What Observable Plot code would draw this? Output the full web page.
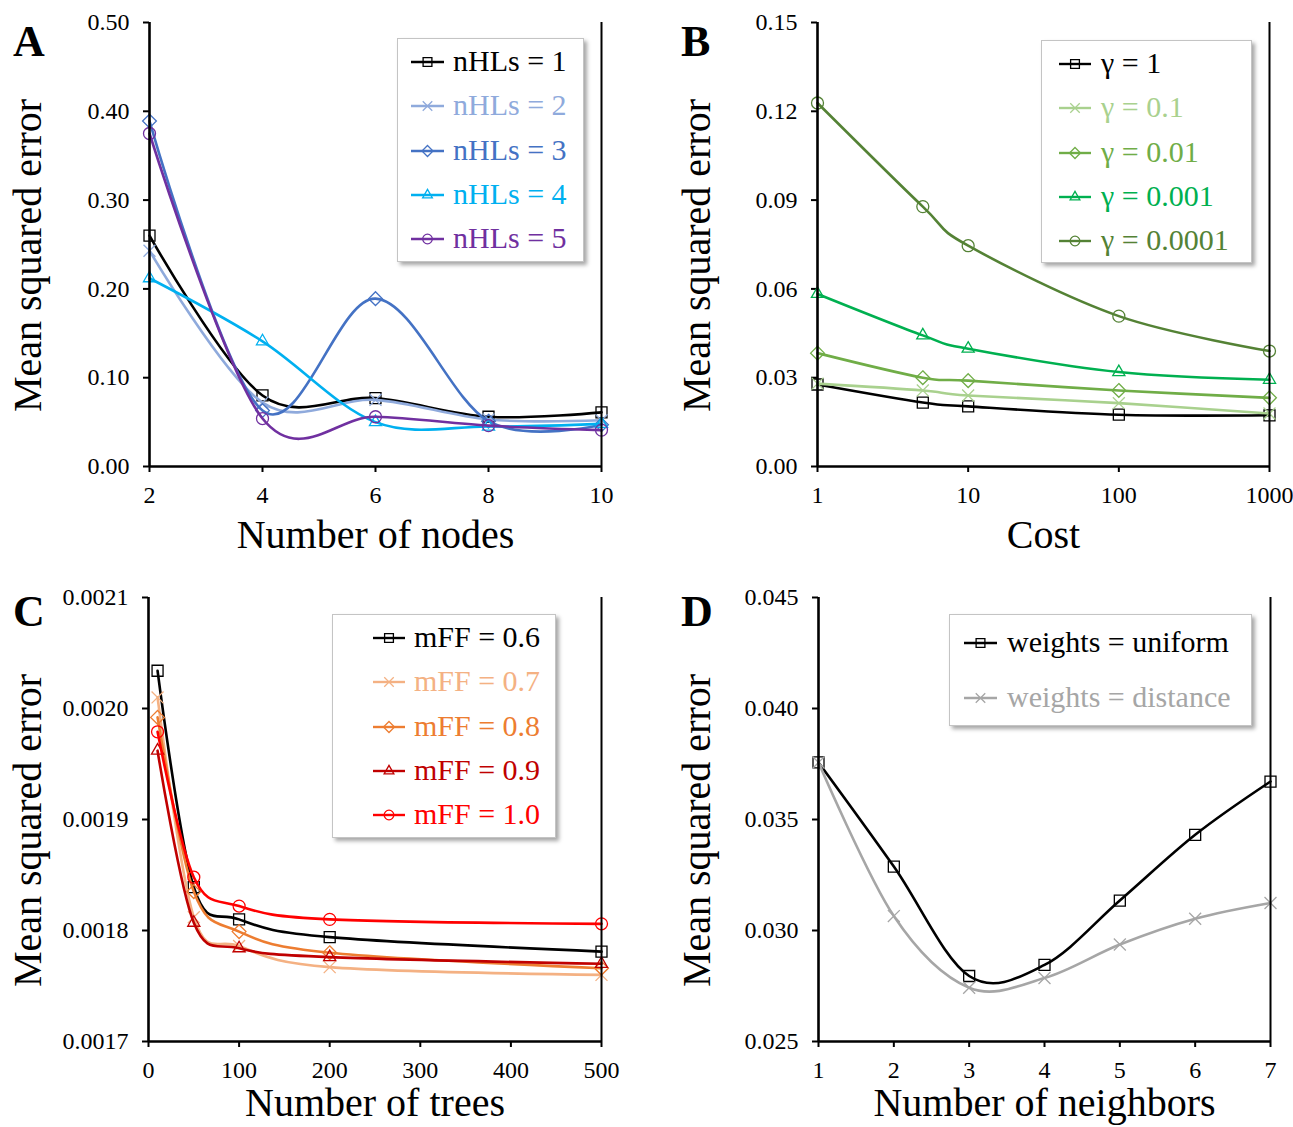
<!DOCTYPE html>
<html><head><meta charset="utf-8">
<script src="https://cdn.jsdelivr.net/npm/d3@7"></script>
<script src="https://cdn.jsdelivr.net/npm/@observablehq/plot@0.6"></script>
<style>
body{margin:0;background:#fff;}
#root{position:relative;width:1293px;height:1127px;overflow:hidden;font-family:"Liberation Serif","Times New Roman",serif;background:#fff;}
#root svg, #root svg text{font-family:"Liberation Serif","Times New Roman",serif !important;}
.panel{position:absolute;}
.letter{position:absolute;font-weight:bold;font-size:44px;line-height:44px;}
.legend{position:absolute;background:#fff;border:1px solid #c4c4c4;box-shadow:3px 3px 4px rgba(0,0,0,0.35);box-sizing:border-box;}
.lrow{position:absolute;font-size:30px;line-height:34px;white-space:nowrap;}
</style></head>
<body><div id="root"></div>
<script>
// ---------- Panel A data ----------
const nodes = [2, 4, 6, 8, 10];
const nhlsNames = ["nHLs = 1", "nHLs = 2", "nHLs = 3", "nHLs = 4", "nHLs = 5"];
const nhls1 = [0.260, 0.080, 0.077, 0.056, 0.061];
const nhls2 = [0.243, 0.072, 0.075, 0.053, 0.052];
const nhls3 = [0.389, 0.063, 0.189, 0.051, 0.047];
const nhls4 = [0.212, 0.141, 0.050, 0.045, 0.048];
const nhls5 = [0.375, 0.054, 0.056, 0.046, 0.041];
const aYTicks = [0, 0.1, 0.2, 0.3, 0.4, 0.5];
const aXTicks = [2, 4, 6, 8, 10];

// ---------- Panel B data ----------
const costs = [1, 5, 10, 100, 1000];
const gammaNames = ["γ = 1", "γ = 0.1", "γ = 0.01", "γ = 0.001", "γ = 0.0001"];
const gamma1 = [0.0277, 0.0216, 0.0203, 0.0175, 0.0173];
const gamma01 = [0.0280, 0.0257, 0.0240, 0.0214, 0.0179];
const gamma001 = [0.0383, 0.0300, 0.0290, 0.0257, 0.0232];
const gamma0001 = [0.0583, 0.0443, 0.0398, 0.0319, 0.0293];
const gamma00001 = [0.1228, 0.0878, 0.0746, 0.0508, 0.0390];
const bYTicks = [0, 0.03, 0.06, 0.09, 0.12, 0.15];
const bXTicks = [1, 10, 100, 1000];

// ---------- Panel C data ----------
const trees = [10, 50, 100, 200, 500];
const mffNames = ["mFF = 0.6", "mFF = 0.7", "mFF = 0.8", "mFF = 0.9", "mFF = 1.0"];
const mff06 = [0.002034, 0.001839, 0.001810, 0.001794, 0.001781];
const mff07 = [0.002010, 0.001812, 0.001786, 0.001767, 0.001760];
const mff08 = [0.001992, 0.001835, 0.001799, 0.001780, 0.001766];
const mff09 = [0.001962, 0.001807, 0.001784, 0.001776, 0.001770];
const mff10 = [0.001979, 0.001848, 0.001822, 0.001810, 0.001806];
const cYTicks = [0.0017, 0.0018, 0.0019, 0.0020, 0.0021];
const cXTicks = [0, 100, 200, 300, 400, 500];

// ---------- Panel D data ----------
const neighbors = [1, 2, 3, 4, 5, 6, 7];
const weightNames = ["weights = uniform", "weights = distance"];
const wUniform = [0.03757, 0.03288, 0.02795, 0.02845, 0.03135, 0.03431, 0.03671];
const wDistance = [0.03757, 0.03065, 0.02742, 0.02786, 0.02937, 0.03053, 0.03124];
const dYTicks = [0.025, 0.030, 0.035, 0.040, 0.045];
const dXTicks = [1, 2, 3, 4, 5, 6, 7];

// ---------- styles ----------
const FONT = '"Liberation Serif","Times New Roman",serif';
const symbolR = {square2: 7, times: 5.5, diamond2: 6.2, triangle2: 5.8, circle: 6};
const d3Sym = {square2: d3.symbolSquare2, times: d3.symbolTimes, diamond2: d3.symbolDiamond2, triangle2: d3.symbolTriangle2, circle: d3.symbolCircle};
const root = document.getElementById("root");

function makePanel(cfg) {
  const marks = [
    Plot.axisY({ticks: cfg.yTicks, tickFormat: d3.format(cfg.yFormat), tickSize: 6, tickPadding: 14, fontSize: 24, fontFamily: FONT, label: null, strokeWidth: 2}),
    Plot.axisX({ticks: cfg.xTicks, tickFormat: d => String(d), tickSize: 6, tickPadding: 13, fontSize: 24, fontFamily: FONT, label: null, strokeWidth: 2}),
  ];
  cfg.series.forEach(s => {
    const rows = s.xs.map((x, i) => ({x, y: s.ys[i]}));
    marks.push(Plot.line(rows, {x: "x", y: "y", stroke: s.color, strokeWidth: 2.6, curve: "cardinal", tension: 0}));
    marks.push(Plot.dot(rows, {x: "x", y: "y", symbol: () => s.symbol, r: symbolR[s.symbol], stroke: s.color, strokeWidth: 1.3, fill: "none"}));
  });
  marks.push(Plot.ruleX([cfg.xDomain[0]], {stroke: "black", strokeWidth: 2.6}));
  marks.push(Plot.ruleX([cfg.xDomain[1]], {stroke: "black", strokeWidth: 2}));
  marks.push(Plot.ruleY([cfg.yDomain[0]], {stroke: "black", strokeWidth: 2.6}));
  marks.push(Plot.text([cfg.xLabel], {text: d => d, frameAnchor: "bottom", dy: cfg.xLabelDy, fontSize: 40, fontFamily: FONT, lineAnchor: "middle", textAnchor: "middle", fill: "black"}));
  marks.push(Plot.text(["Mean squared error"], {text: d => d, frameAnchor: "left", dx: cfg.yLabelDx, dy: 11, rotate: -90, fontSize: 40, fontFamily: FONT, lineAnchor: "middle", textAnchor: "middle", fill: "black"}));

  const svg = Plot.plot({
    width: cfg.width, height: cfg.height,
    marginLeft: cfg.m[0], marginRight: cfg.m[1], marginTop: cfg.m[2], marginBottom: cfg.m[3],
    style: {fontFamily: FONT, color: "black", background: "transparent", overflow: "visible"},
    x: {type: cfg.xType || "linear", domain: cfg.xDomain},
    y: {domain: cfg.yDomain},
    symbol: {type: "identity"},
    marks
  });
  const wrap = document.createElement("div");
  wrap.className = "panel";
  wrap.style.left = cfg.left + "px";
  wrap.style.top = cfg.top + "px";
  wrap.appendChild(svg);
  root.appendChild(wrap);

  const L = document.createElement("div");
  L.className = "letter";
  L.textContent = cfg.letter;
  L.style.left = cfg.letterPos[0] + "px";
  L.style.top = cfg.letterPos[1] + "px";
  root.appendChild(L);

  const lg = cfg.legend;
  const box = document.createElement("div");
  box.className = "legend";
  Object.assign(box.style, {left: lg.left + "px", top: lg.top + "px", width: lg.w + "px", height: lg.h + "px"});
  cfg.series.forEach((s, i) => {
    const cy = lg.row0 + i * lg.gap;
    const sw = d3.create("svg").attr("width", lg.sw[1] - lg.sw[0] + 4).attr("height", 20)
      .style("position", "absolute").style("left", (lg.sw[0] - 2) + "px").style("top", (cy - 10) + "px");
    const len = lg.sw[1] - lg.sw[0];
    sw.append("line").attr("x1", 2).attr("x2", 2 + len).attr("y1", 10).attr("y2", 10).attr("stroke", s.color).attr("stroke-width", 2.4);
    sw.append("path").attr("d", d3.symbol(d3Sym[s.symbol], Math.PI * Math.pow(symbolR[s.symbol] * 0.8, 2))())
      .attr("transform", `translate(${2 + len / 2},10)`).attr("fill", "none").attr("stroke", s.color).attr("stroke-width", 1.3);
    box.appendChild(sw.node());
    const t = document.createElement("div");
    t.className = "lrow";
    t.textContent = s.name;
    t.style.color = s.color;
    t.style.left = lg.tx + "px";
    t.style.top = (cy - 18) + "px";
    box.appendChild(t);
  });
  root.appendChild(box);
}

makePanel({
  letter: "A", letterPos: [13, 20],
  left: 0, top: 0, width: 646, height: 563, m: [149, 45, 22, 97],
  xDomain: [2, 10], yDomain: [0, 0.5], xTicks: aXTicks, yTicks: aYTicks, yFormat: ".2f",
  xLabel: "Number of nodes", xLabelDy: 69, yLabelDx: -121,
  series: [
    {name: nhlsNames[0], xs: nodes, ys: nhls1, color: "#000000", symbol: "square2"},
    {name: nhlsNames[1], xs: nodes, ys: nhls2, color: "#8FAADC", symbol: "times"},
    {name: nhlsNames[2], xs: nodes, ys: nhls3, color: "#4472C4", symbol: "diamond2"},
    {name: nhlsNames[3], xs: nodes, ys: nhls4, color: "#00B0F0", symbol: "triangle2"},
    {name: nhlsNames[4], xs: nodes, ys: nhls5, color: "#7030A0", symbol: "circle"}
  ],
  legend: {left: 397, top: 38, w: 187, h: 224, row0: 23, gap: 44.3, sw: [13, 46], tx: 55}
});

makePanel({
  letter: "B", letterPos: [681, 20],
  left: 646, top: 0, width: 647, height: 563, m: [171, 24, 22, 97],
  xType: "log", xDomain: [1, 1000], yDomain: [0, 0.15], xTicks: bXTicks, yTicks: bYTicks, yFormat: ".2f",
  xLabel: "Cost", xLabelDy: 69, yLabelDx: -120,
  series: [
    {name: gammaNames[0], xs: costs, ys: gamma1, color: "#000000", symbol: "square2"},
    {name: gammaNames[1], xs: costs, ys: gamma01, color: "#A9D18E", symbol: "times"},
    {name: gammaNames[2], xs: costs, ys: gamma001, color: "#70AD47", symbol: "diamond2"},
    {name: gammaNames[3], xs: costs, ys: gamma0001, color: "#00B050", symbol: "triangle2"},
    {name: gammaNames[4], xs: costs, ys: gamma00001, color: "#548235", symbol: "circle"}
  ],
  legend: {left: 1041, top: 40, w: 211, h: 223, row0: 23, gap: 44.3, sw: [17, 49], tx: 59}
});

makePanel({
  letter: "C", letterPos: [13, 590],
  left: 0, top: 563, width: 646, height: 564, m: [148, 45, 34, 86],
  xDomain: [0, 500], yDomain: [0.0017, 0.0021], xTicks: cXTicks, yTicks: cYTicks, yFormat: ".4f",
  xLabel: "Number of trees", xLabelDy: 62, yLabelDx: -120,
  series: [
    {name: mffNames[0], xs: trees, ys: mff06, color: "#000000", symbol: "square2"},
    {name: mffNames[1], xs: trees, ys: mff07, color: "#F4B183", symbol: "times"},
    {name: mffNames[2], xs: trees, ys: mff08, color: "#ED7D31", symbol: "diamond2"},
    {name: mffNames[3], xs: trees, ys: mff09, color: "#C00000", symbol: "triangle2"},
    {name: mffNames[4], xs: trees, ys: mff10, color: "#FF0000", symbol: "circle"}
  ],
  legend: {left: 332, top: 614, w: 224, h: 224, row0: 23, gap: 44.3, sw: [40, 72], tx: 81}
});

makePanel({
  letter: "D", letterPos: [681, 590],
  left: 646, top: 563, width: 647, height: 564, m: [172, 23, 34, 86],
  xDomain: [1, 7], yDomain: [0.025, 0.045], xTicks: dXTicks, yTicks: dYTicks, yFormat: ".3f",
  xLabel: "Number of neighbors", xLabelDy: 62, yLabelDx: -121,
  series: [
    {name: weightNames[0], xs: neighbors, ys: wUniform, color: "#000000", symbol: "square2"},
    {name: weightNames[1], xs: neighbors, ys: wDistance, color: "#A6A6A6", symbol: "times"}
  ],
  legend: {left: 949, top: 614, w: 303, h: 112, row0: 28, gap: 55, sw: [14, 47], tx: 57}
});
</script>
</body></html>
